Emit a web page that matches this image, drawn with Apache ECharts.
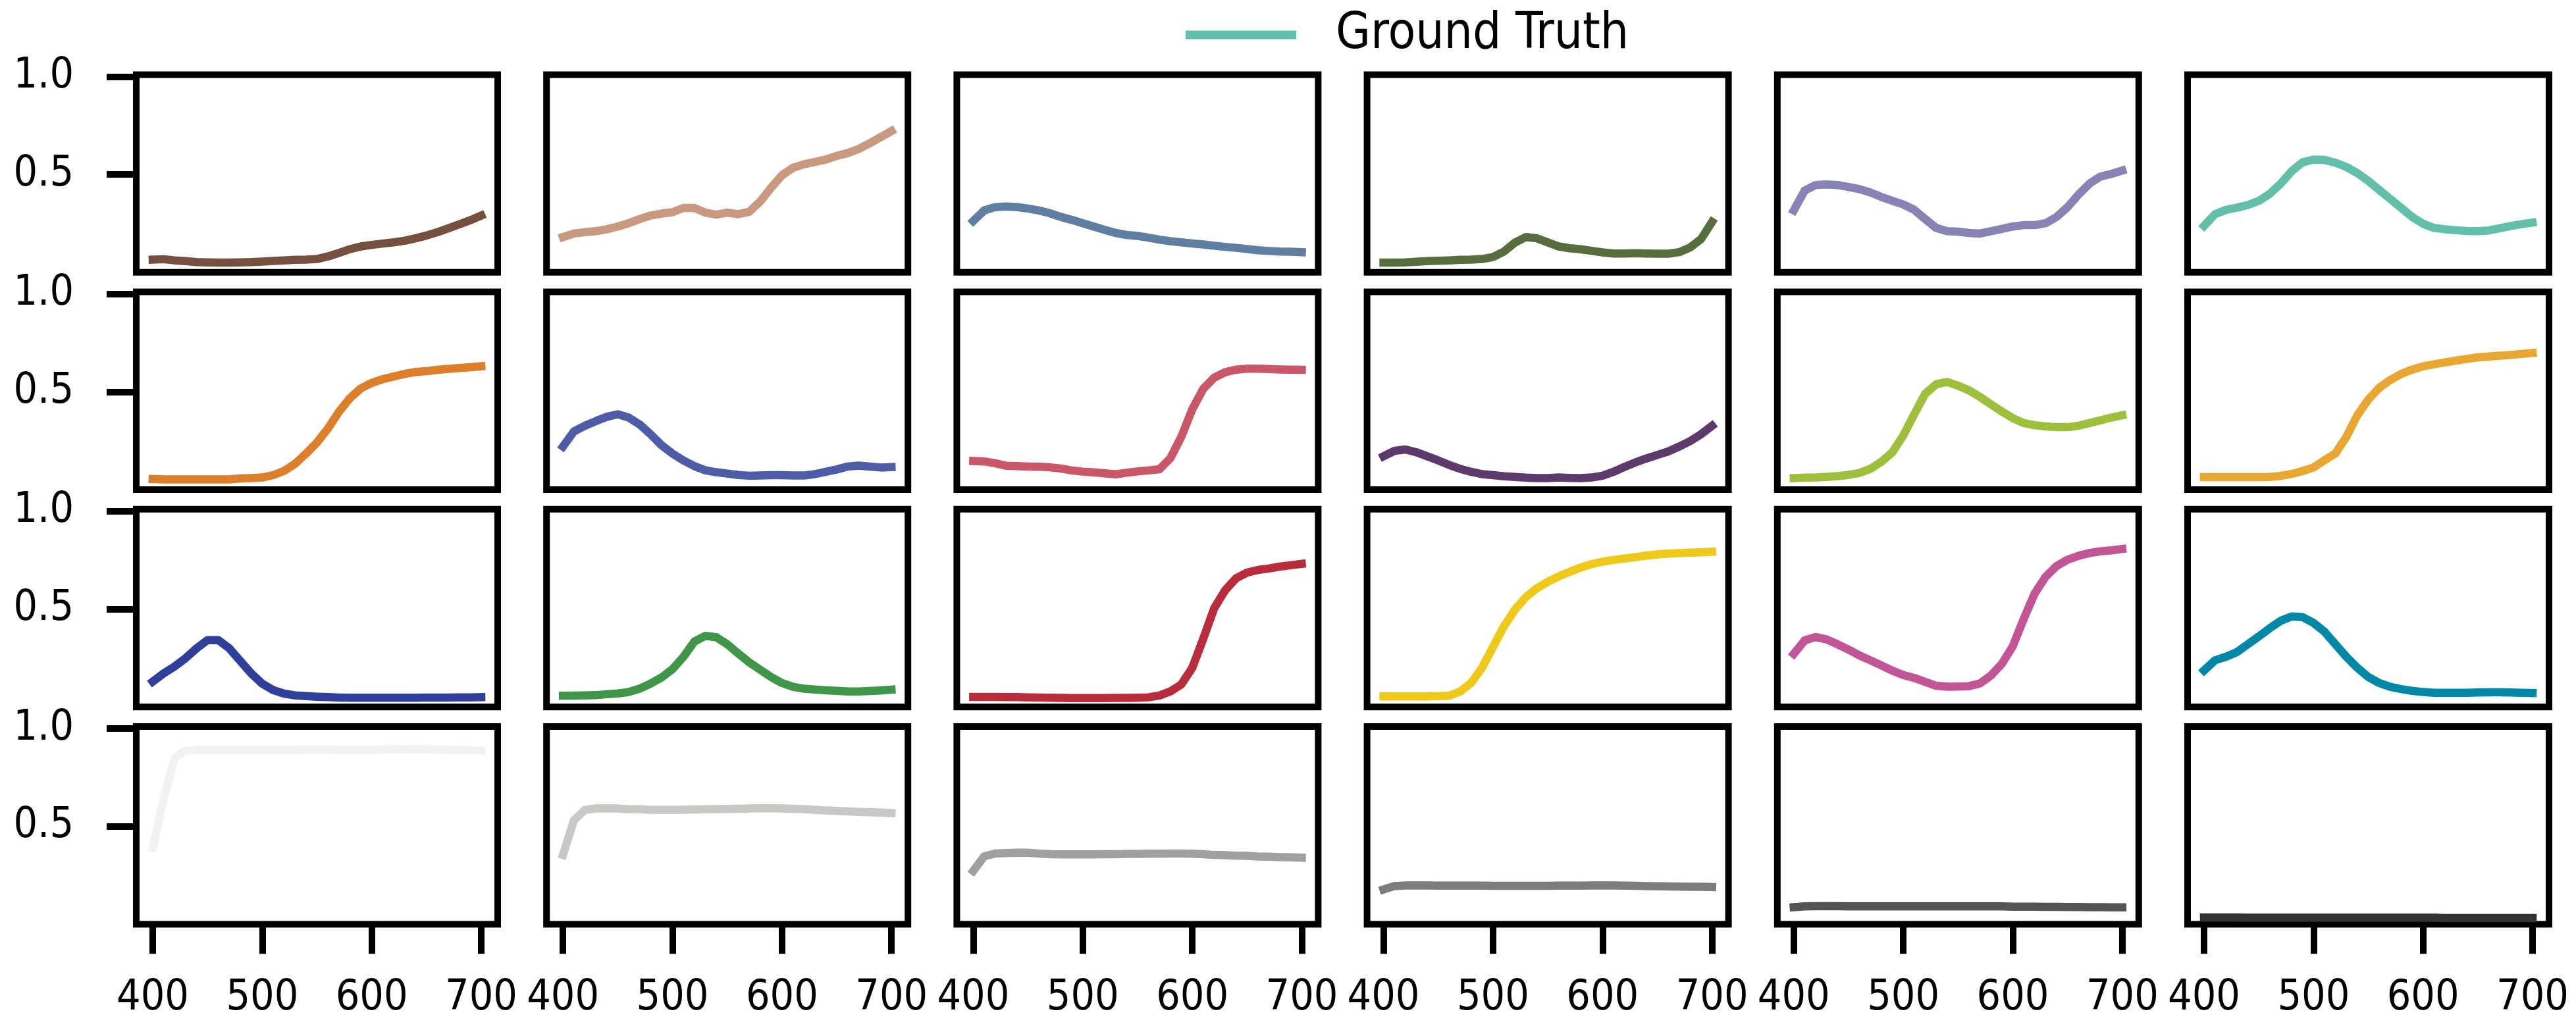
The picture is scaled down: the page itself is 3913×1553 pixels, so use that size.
<!DOCTYPE html>
<html>
<head>
<meta charset="utf-8">
<title>Ground Truth spectra</title>
<script src="https://cdn.jsdelivr.net/npm/echarts@6.0.0/dist/echarts.min.js"></script>
<style>
  html, body { margin: 0; padding: 0; background: #fff; }
  #chart { width: 3913px; height: 1553px; }
</style>
</head>
<body>
<div id="chart"></div>
<script>
// wavelengths in nm, 10 nm steps
const wavelengths = [400, 410, 420, 430, 440, 450, 460, 470, 480, 490, 500, 510, 520, 530, 540, 550,
  560, 570, 580, 590, 600, 610, 620, 630, 640, 650, 660, 670, 680, 690, 700];

// reflectance, one array per patch
const darkSkin = [0.065, 0.067, 0.061, 0.057, 0.052, 0.051, 0.050, 0.050, 0.051, 0.052, 0.055, 0.058, 0.061, 0.064, 0.065, 0.068,
  0.081, 0.099, 0.118, 0.132, 0.140, 0.147, 0.153, 0.161, 0.174, 0.188, 0.205, 0.225, 0.245, 0.266, 0.290];
const lightSkin = [0.180, 0.198, 0.205, 0.210, 0.220, 0.234, 0.251, 0.272, 0.290, 0.300, 0.307, 0.329, 0.329, 0.305, 0.295, 0.305,
  0.297, 0.309, 0.361, 0.432, 0.496, 0.534, 0.552, 0.564, 0.576, 0.595, 0.609, 0.630, 0.659, 0.690, 0.722];
const blueSky = [0.262, 0.316, 0.333, 0.336, 0.333, 0.326, 0.316, 0.302, 0.283, 0.268, 0.251, 0.234, 0.217, 0.201, 0.191, 0.186,
  0.177, 0.167, 0.159, 0.153, 0.147, 0.142, 0.136, 0.130, 0.125, 0.119, 0.113, 0.109, 0.106, 0.105, 0.103];
const foliage = [0.050, 0.050, 0.051, 0.054, 0.057, 0.059, 0.061, 0.064, 0.065, 0.068, 0.078, 0.106, 0.152, 0.180, 0.174, 0.153,
  0.132, 0.123, 0.118, 0.110, 0.102, 0.096, 0.096, 0.098, 0.096, 0.095, 0.095, 0.103, 0.127, 0.170, 0.258];
const blueFlower = [0.316, 0.418, 0.446, 0.449, 0.446, 0.436, 0.425, 0.408, 0.385, 0.365, 0.347, 0.319, 0.272, 0.227, 0.210, 0.208,
  0.201, 0.198, 0.210, 0.222, 0.234, 0.241, 0.241, 0.251, 0.283, 0.333, 0.397, 0.453, 0.489, 0.503, 0.520];
const bluishGreen = [0.237, 0.297, 0.319, 0.330, 0.344, 0.365, 0.401, 0.453, 0.517, 0.562, 0.576, 0.574, 0.560, 0.538, 0.507, 0.467,
  0.421, 0.375, 0.329, 0.283, 0.248, 0.227, 0.220, 0.215, 0.211, 0.210, 0.214, 0.225, 0.237, 0.246, 0.254];

const orange = [0.054, 0.052, 0.052, 0.052, 0.052, 0.052, 0.052, 0.052, 0.057, 0.059, 0.062, 0.074, 0.096, 0.132, 0.184, 0.241,
  0.312, 0.397, 0.467, 0.517, 0.545, 0.564, 0.578, 0.591, 0.601, 0.605, 0.612, 0.617, 0.621, 0.625, 0.630];
const purplishBlue = [0.220, 0.297, 0.326, 0.350, 0.372, 0.385, 0.368, 0.333, 0.283, 0.227, 0.184, 0.149, 0.120, 0.099, 0.089, 0.082,
  0.075, 0.071, 0.072, 0.074, 0.074, 0.072, 0.072, 0.079, 0.091, 0.103, 0.118, 0.123, 0.118, 0.113, 0.115];
const moderateRed = [0.146, 0.144, 0.135, 0.122, 0.120, 0.118, 0.117, 0.114, 0.108, 0.098, 0.092, 0.088, 0.083, 0.078, 0.086, 0.093,
  0.098, 0.104, 0.160, 0.270, 0.410, 0.515, 0.572, 0.600, 0.613, 0.618, 0.618, 0.616, 0.614, 0.613, 0.612];
const purple = [0.170, 0.198, 0.205, 0.191, 0.170, 0.149, 0.126, 0.106, 0.091, 0.079, 0.074, 0.068, 0.065, 0.061, 0.059, 0.059,
  0.062, 0.060, 0.059, 0.062, 0.071, 0.091, 0.116, 0.139, 0.159, 0.177, 0.195, 0.220, 0.248, 0.283, 0.326];
const yellowGreen = [0.059, 0.061, 0.062, 0.065, 0.069, 0.075, 0.085, 0.106, 0.142, 0.191, 0.276, 0.385, 0.489, 0.538, 0.550, 0.531,
  0.507, 0.474, 0.436, 0.399, 0.365, 0.340, 0.329, 0.323, 0.319, 0.319, 0.326, 0.340, 0.354, 0.368, 0.380];
const orangeYellow = [0.064, 0.064, 0.064, 0.064, 0.064, 0.064, 0.065, 0.070, 0.080, 0.095, 0.113, 0.150, 0.185, 0.270, 0.380, 0.460,
  0.520, 0.560, 0.591, 0.613, 0.630, 0.640, 0.650, 0.659, 0.668, 0.676, 0.680, 0.684, 0.688, 0.693, 0.698];

const blue = [0.129, 0.171, 0.207, 0.249, 0.299, 0.341, 0.341, 0.299, 0.235, 0.171, 0.119, 0.086, 0.068, 0.059, 0.055, 0.052,
  0.050, 0.048, 0.047, 0.047, 0.047, 0.047, 0.047, 0.047, 0.047, 0.048, 0.048, 0.048, 0.049, 0.049, 0.050];
const green = [0.057, 0.058, 0.059, 0.060, 0.065, 0.069, 0.076, 0.093, 0.119, 0.150, 0.193, 0.256, 0.334, 0.363, 0.356, 0.320,
  0.273, 0.228, 0.190, 0.153, 0.122, 0.103, 0.093, 0.089, 0.085, 0.082, 0.079, 0.079, 0.081, 0.084, 0.088];
const red = [0.051, 0.051, 0.051, 0.050, 0.050, 0.049, 0.048, 0.047, 0.046, 0.045, 0.045, 0.045, 0.045, 0.046, 0.046, 0.047,
  0.049, 0.058, 0.079, 0.115, 0.200, 0.348, 0.504, 0.596, 0.657, 0.686, 0.700, 0.707, 0.717, 0.724, 0.731];
const yellow = [0.054, 0.054, 0.054, 0.054, 0.054, 0.055, 0.057, 0.079, 0.122, 0.200, 0.306, 0.412, 0.497, 0.561, 0.606, 0.639,
  0.667, 0.690, 0.712, 0.730, 0.742, 0.751, 0.758, 0.765, 0.773, 0.779, 0.783, 0.786, 0.788, 0.790, 0.793];
const magenta = [0.271, 0.340, 0.357, 0.345, 0.320, 0.293, 0.263, 0.238, 0.212, 0.185, 0.163, 0.148, 0.128, 0.108, 0.103, 0.104,
  0.106, 0.120, 0.160, 0.220, 0.310, 0.450, 0.580, 0.665, 0.720, 0.752, 0.772, 0.786, 0.795, 0.800, 0.807];
const cyan = [0.186, 0.238, 0.256, 0.280, 0.320, 0.360, 0.402, 0.440, 0.462, 0.459, 0.429, 0.384, 0.320, 0.256, 0.200, 0.153,
  0.122, 0.103, 0.091, 0.082, 0.076, 0.072, 0.072, 0.072, 0.072, 0.074, 0.075, 0.075, 0.074, 0.072, 0.071];

const white = [0.390, 0.640, 0.850, 0.887, 0.890, 0.891, 0.891, 0.891, 0.891, 0.891, 0.891, 0.891, 0.891, 0.891, 0.892, 0.892,
  0.892, 0.891, 0.891, 0.891, 0.890, 0.892, 0.895, 0.895, 0.894, 0.893, 0.892, 0.891, 0.890, 0.889, 0.888];
const neutral8 = [0.354, 0.531, 0.584, 0.591, 0.591, 0.591, 0.588, 0.587, 0.585, 0.585, 0.585, 0.585, 0.586, 0.587, 0.588, 0.589,
  0.590, 0.591, 0.592, 0.592, 0.591, 0.590, 0.588, 0.585, 0.581, 0.579, 0.576, 0.574, 0.572, 0.570, 0.568];
const neutral65 = [0.272, 0.347, 0.361, 0.364, 0.365, 0.365, 0.361, 0.358, 0.357, 0.357, 0.357, 0.357, 0.358, 0.358, 0.359, 0.359,
  0.360, 0.360, 0.361, 0.361, 0.360, 0.358, 0.354, 0.353, 0.350, 0.349, 0.346, 0.345, 0.343, 0.342, 0.340];
const neutral5 = [0.177, 0.195, 0.198, 0.198, 0.198, 0.197, 0.197, 0.197, 0.197, 0.197, 0.196, 0.196, 0.196, 0.196, 0.196, 0.196,
  0.197, 0.197, 0.197, 0.198, 0.198, 0.198, 0.197, 0.196, 0.195, 0.194, 0.193, 0.192, 0.191, 0.191, 0.190];
const neutral35 = [0.087, 0.091, 0.092, 0.092, 0.092, 0.091, 0.091, 0.091, 0.091, 0.091, 0.091, 0.091, 0.091, 0.091, 0.091, 0.091,
  0.091, 0.091, 0.091, 0.091, 0.090, 0.090, 0.090, 0.089, 0.089, 0.088, 0.088, 0.087, 0.087, 0.086, 0.086];
const black = [0.034, 0.034, 0.034, 0.034, 0.033, 0.033, 0.033, 0.033, 0.033, 0.033, 0.033, 0.033, 0.033, 0.033, 0.033, 0.033,
  0.033, 0.033, 0.033, 0.033, 0.033, 0.033, 0.032, 0.032, 0.032, 0.032, 0.032, 0.032, 0.032, 0.032, 0.032];

// patches in chart order (row by row)
const patches = [darkSkin, lightSkin, blueSky, foliage, blueFlower, bluishGreen,
  orange, purplishBlue, moderateRed, purple, yellowGreen, orangeYellow,
  blue, green, red, yellow, magenta, cyan,
  white, neutral8, neutral65, neutral5, neutral35, black];

const lineColors = ['#76503f', '#c8987f', '#5f7ea1', '#566e3e', '#8883b5', '#62bfaa',
  '#dd7e2b', '#4e5ca8', '#c95767', '#5e396c', '#9ebf3c', '#e7a731',
  '#30409a', '#3f9649', '#b82c3c', '#efc91a', '#c25596', '#0088a8',
  '#f2f2f1', '#c8c8c7', '#a0a0a0', '#7c7c7c', '#545454', '#333333'];

const xTicks = [400, 500, 600, 700];
const yTicks = [0.5, 1.0];

const font = "'Liberation Sans Narrow', 'DejaVu Sans Condensed', sans-serif";
const nCols = 6, nRows = 4;

const grids = [], xAxes = [], yAxes = [], series = [];
for (let i = 0; i < patches.length; i++) {
  const r = Math.floor(i / nCols);
  const c = i % nCols;
  grids.push({
    left: 207 + c * 623.2,
    top: 113.4 + r * 330.2,
    width: 549,
    height: 300.4,
    show: true,
    borderColor: '#000',
    borderWidth: 10,
    backgroundColor: 'transparent'
  });
  const bottomRow = r === nRows - 1;
  const firstCol = c === 0;
  xAxes.push({
    gridIndex: i,
    type: 'value',
    min: 385,
    max: 715,
    axisLine: { show: false },
    splitLine: { show: false },
    axisTick: {
      show: bottomRow,
      customValues: xTicks,
      length: 45,
      lineStyle: { color: '#000', width: 10 }
    },
    axisLabel: {
      show: bottomRow,
      customValues: xTicks,
      margin: 113,
      verticalAlign: 'middle',
      color: '#000',
      fontSize: 64,
      fontFamily: font
    }
  });
  yAxes.push({
    gridIndex: i,
    type: 'value',
    min: 0,
    max: 1.01,
    axisLine: { show: false },
    splitLine: { show: false },
    axisTick: {
      show: firstCol,
      customValues: yTicks,
      length: 45,
      lineStyle: { color: '#000', width: 10 }
    },
    axisLabel: {
      show: firstCol,
      customValues: yTicks,
      margin: 95,
      color: '#000',
      fontSize: 64,
      fontFamily: font,
      formatter: v => v.toFixed(1)
    }
  });
  series.push({
    name: 'Ground Truth',
    type: 'line',
    xAxisIndex: i,
    yAxisIndex: i,
    showSymbol: false,
    symbol: 'none',
    animation: false,
    color: lineColors[i],
    lineStyle: { color: lineColors[i], width: 12.5, join: 'round', cap: 'square' },
    data: wavelengths.map((w, k) => [w, patches[i][k]])
  });
}

const chart = echarts.init(document.getElementById('chart'), null, { renderer: 'canvas' });
chart.setOption({
  animation: false,
  backgroundColor: '#fff',
  legend: {
    left: 1796,
    top: 10,
    selectedMode: false,
    itemWidth: 168,
    itemHeight: 13,
    data: [{
      name: 'Ground Truth',
      icon: 'rect',
      itemStyle: { color: '#62bfaa' }
    }],
    textStyle: {
      color: '#000',
      fontSize: 76,
      fontFamily: font,
      padding: [0, 0, 0, 55]
    }
  },
  grid: grids,
  xAxis: xAxes,
  yAxis: yAxes,
  series: series
});
</script>
</body>
</html>
